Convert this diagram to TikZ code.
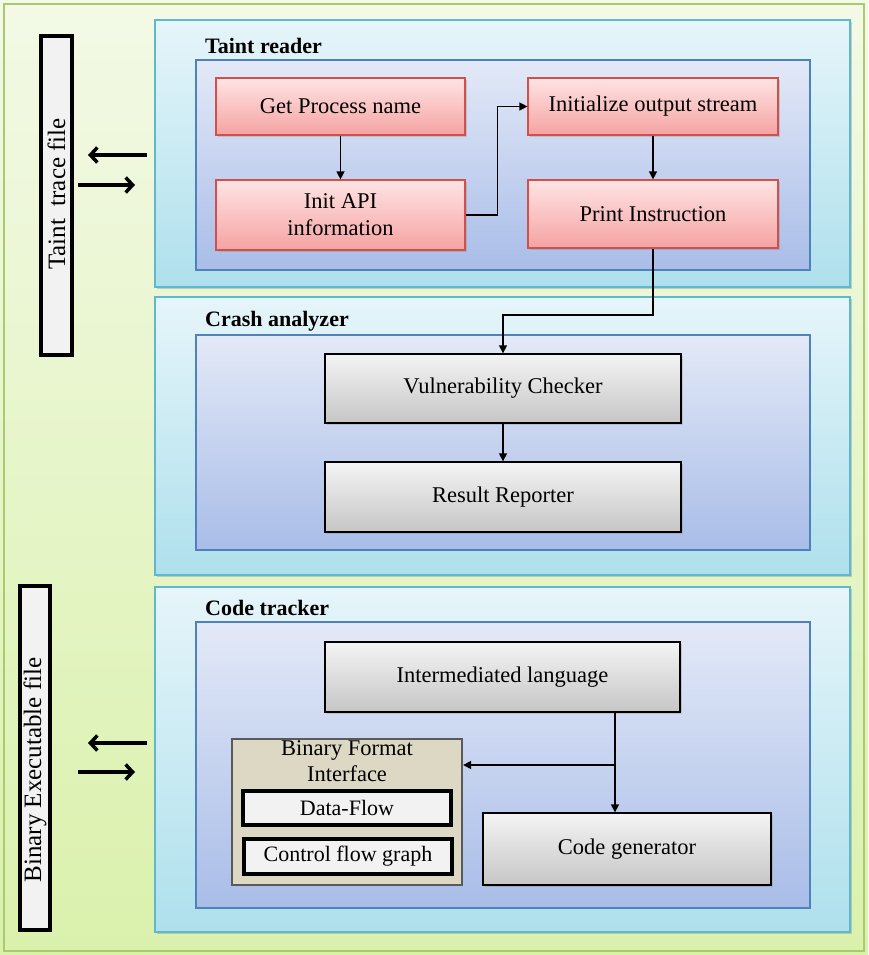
\documentclass[tikz,border=0pt]{standalone}
\usepackage{fontspec}
\setmainfont{Liberation Serif}
\usetikzlibrary{arrows.meta,shadows}

\definecolor{bgtop}{HTML}{F3F9E6}
\definecolor{bgbot}{HTML}{DAF1AC}
\definecolor{bgedge}{HTML}{A9CB6E}
\definecolor{paneltop}{HTML}{E6F5FA}
\definecolor{panelbot}{HTML}{AEE0EC}
\definecolor{paneledge}{HTML}{5DB8D0}
\definecolor{innertop}{HTML}{E3E9F7}
\definecolor{innerbot}{HTML}{A9BDE8}
\definecolor{inneredge}{HTML}{4F81BD}
\definecolor{redtop}{HTML}{FFE4E4}
\definecolor{redbot}{HTML}{F4A3A2}
\definecolor{rededge}{HTML}{D0504E}
\definecolor{greytop}{HTML}{F4F4F4}
\definecolor{greybot}{HTML}{C6C6C6}
\definecolor{tan}{HTML}{DDD8C3}

\tikzset{
  panel/.style={draw=paneledge, line width=1.2pt, top color=paneltop, bottom color=panelbot,
    drop shadow={shadow xshift=2pt, shadow yshift=-2pt, opacity=0.35}},
  innerpanel/.style={draw=inneredge, line width=1.2pt, top color=innertop, bottom color=innerbot},
  title/.style={font=\fontsize{22}{24}\selectfont\bfseries, anchor=west, inner sep=0pt},
  redbox/.style={draw=rededge, line width=1.2pt, top color=redtop, bottom color=redbot,
    align=center, font=\fontsize{22.5}{27}\selectfont,
    drop shadow={shadow xshift=2pt, shadow yshift=-2pt, opacity=0.3}},
  greybox/.style={draw=black, line width=1.3pt, top color=greytop, bottom color=greybot,
    align=center, font=\fontsize{22.5}{27}\selectfont,
    drop shadow={shadow xshift=2pt, shadow yshift=-2pt, opacity=0.3}},
  bfibox/.style={draw=black!65, line width=2.2pt, fill=tan},
  subbox/.style={draw=black, line width=3.5pt, fill=black!5, font=\fontsize{22}{24}\selectfont},
  filebar/.style={draw=black, line width=4pt, fill=black!5},
  bartext/.style={rotate=90, font=\fontsize{25}{27}\selectfont, inner sep=0pt},
  flow/.style={draw=black, line width=1.3pt, -{Triangle[length=8pt,width=8pt]}},
  bigarrow/.style={draw=black, line width=3.5pt, -{Straight Barb[length=7pt,width=15pt]}},
}

\begin{document}
\begin{tikzpicture}[x=1pt, y=-1pt]
  % page background
  \path[top color=bgtop, bottom color=bgbot] (0,0) rectangle (868,955);
  \draw[bgedge, line width=1.5pt] (4,4) rectangle (864,951);
  \useasboundingbox (0,0) rectangle (868,955);

  % ---- Taint reader ----
  \path[panel] (155,20) rectangle (850,287);
  \path[innerpanel] (196,60) rectangle (810,270);
  \node[title] (ttr) at (205,46) {Taint reader};

  \node[redbox, minimum width=249pt, minimum height=57pt] (gpn) at (340.5,106.5) {Get Process name};
  \node[redbox, minimum width=249pt, minimum height=70pt] (iai) at (340.5,215) {Init API\\information};
  \node[redbox, minimum width=250pt, minimum height=57pt] (ios) at (653,106.5) {Initialize output stream};
  \node[redbox, minimum width=250pt, minimum height=68pt] (pin) at (653,214) {Print Instruction};

  % ---- Crash analyzer ----
  \path[panel] (155,297) rectangle (850,575);
  \path[innerpanel] (196,335) rectangle (810,550);
  \node[title] (tca) at (205,321) {Crash analyzer};

  \node[greybox, minimum width=356pt, minimum height=69pt] (vc) at (503,388.5) {Vulnerability Checker};
  \node[greybox, minimum width=356pt, minimum height=70pt] (rr) at (503,497) {Result Reporter};

  % ---- Code tracker ----
  \path[panel] (155,587) rectangle (850,932);
  \path[innerpanel] (196,622) rectangle (810,908);
  \node[title] (tct) at (205,608) {Code tracker};

  \node[greybox, minimum width=355pt, minimum height=70pt] (il) at (502.5,677) {Intermediated language};
  \node[bfibox, minimum width=230pt, minimum height=146pt] (bfi) at (347,812) {};
  \node[anchor=north, align=center, inner sep=0pt, font=\fontsize{22.5}{26}\selectfont] (bfit) at (347,740) {Binary Format\\Interface};
  \node[subbox, minimum width=208pt, minimum height=34pt] (df) at (347,808) {Data-Flow};
  \node[subbox, minimum width=208pt, minimum height=35pt] (cfg) at (348,856.5) {Control flow graph};
  \node[greybox, minimum width=288pt, minimum height=72pt] (cg) at (627,849) {Code generator};

  % ---- file bars ----
  \node[filebar, minimum width=31pt, minimum height=319pt] (ttf) at (56.5,195.5) {};
  \node[bartext] (ttft) at (56.5,194) {Taint\ \ trace file};
  \node[filebar, minimum width=30pt, minimum height=344pt] (bef) at (35,758) {};
  \node[bartext] (beft) at (35,770) {Binary Executable file};

  % ---- arrows between file bars and panels ----
  \coordinate (ta1) at (147,155);
  \coordinate (ta2) at (88,155);
  \coordinate (tb1) at (78,185);
  \coordinate (tb2) at (135,185);
  \coordinate (ba1) at (147,743);
  \coordinate (ba2) at (88,743);
  \coordinate (bb1) at (78,772);
  \coordinate (bb2) at (135,772);
  \draw[bigarrow] (ta1) -- (ta2);
  \draw[bigarrow] (tb1) -- (tb2);
  \draw[bigarrow] (ba1) -- (ba2);
  \draw[bigarrow] (bb1) -- (bb2);

  % ---- flow connectors ----
  \draw[flow] (gpn) -- (iai);
  \draw[flow] (iai.east) -- ++(32,0) |- (ios.west);
  \draw[flow] (ios) -- (pin);
  \coordinate (jn) at (503,315);
  \draw[flow] (pin.south) |- (jn) -- (vc.north);
  \draw[flow] (vc) -- (rr);
  \coordinate (split) at (615,765);
  \draw[flow] (split |- il.south) -- (split |- cg.north);
  \draw[flow] (split) -- (split -| bfi.east);
\end{tikzpicture}
\end{document}
